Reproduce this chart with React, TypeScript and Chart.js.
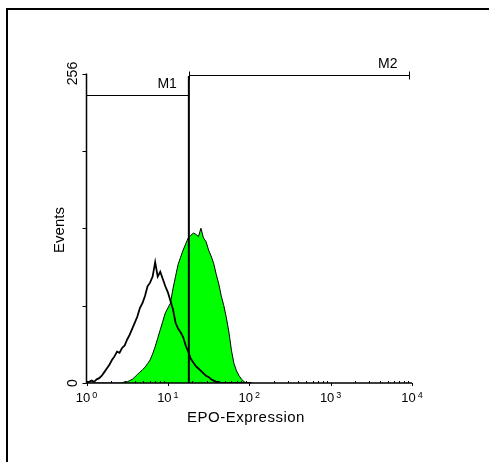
import React, { useEffect, useRef } from 'react';
import { Chart, registerables } from 'chart.js';

Chart.register(...registerables);

// Histogram channels (256-channel, 4-decade log amplifier)
const channels = [
  0, 2, 4, 6, 8, 10, 12, 14, 16, 18, 20, 22, 24, 26, 28, 30, 32, 34, 36, 38, 40, 42,
  44, 46, 48, 50, 52, 54, 56, 58, 60, 62, 64, 66, 68, 70, 72, 74, 76, 78, 80, 82, 84,
  86, 88, 90, 92, 94, 96, 98, 100, 102, 104, 106, 108, 110, 112, 114, 116, 118, 120,
  122, 124, 126, 128, 130,
];

// Isotype control (open black histogram)
const isotypeCounts = [
  1, 1, 2, 1, 3, 4, 6, 9, 12, 15, 19, 22, 26, 25, 29, 31, 36, 40, 45, 50, 55, 62,
  66, 72, 80, 83, 88, 100, 88, 92, 86, 80, 75, 68, 61, 50, 45, 42, 38, 31, 26, 20, 17,
  14, 12, 10, 8, 6, 5, 3, 2, 1, 1, 0, 0, 0, 0, 0, 0, 0, 0,
  0, 0, 0, 0, 0,
];

// EPO stained sample (green filled histogram)
const epoCounts = [
  0, 0, 0, 0, 0, 0, 0, 0, 0, 0, 0, 0, 0, 0, 0, 1, 1, 2, 3, 5, 7, 9,
  11, 13, 16, 19, 24, 30, 37, 44, 51, 58, 62, 66, 78, 88, 98, 104, 110, 115, 120, 122, 124,
  123, 121, 128, 120, 117, 110, 105, 99, 90, 82, 72, 64, 54, 42, 27, 16, 10, 6,
  3, 1, 0, 0, 0,
];

const yTickValues = [0, 64, 128, 192, 256];
const yTickLabels = ['0', '', '', '', '256'];
const xDecadeExponents = ['0', '1', '2', '3', '4'];
const xMinorMultipliers = [2, 3, 4, 5, 6, 7, 8, 9];

const markerNames = ['M1', 'M2'];
const markerStart = [0, 81];
const markerEnd = [80.5, 254];
const markerLevel = [238, 255];
const gateChannel = 80.5;
const gateTop = 254;

const xTitle = 'EPO-Expression';
const yTitle = 'Events';

const FONT = '"Liberation Sans", Arial, sans-serif';

const overlayPlugin = {
  id: 'facsOverlay',
  afterDatasetsDraw(chart: any) {
    const ctx = chart.ctx as CanvasRenderingContext2D;
    const xs = chart.scales.x;
    const ys = chart.scales.y;
    const px = (v: number) => xs.getPixelForValue(v);
    const py = (v: number) => ys.getPixelForValue(v);
    ctx.save();
    ctx.strokeStyle = '#000';
    ctx.fillStyle = '#000';

    // frame (top & left edges visible)
    ctx.fillRect(6, 8, 483, 2);
    ctx.fillRect(6, 8, 2, 454);

    // gate line
    ctx.lineWidth = 2;
    ctx.beginPath();
    ctx.moveTo(px(gateChannel), py(gateTop));
    ctx.lineTo(px(gateChannel), py(0));
    ctx.stroke();

    // markers
    ctx.lineWidth = 1;
    ctx.font = `14px ${FONT}`;
    ctx.textAlign = 'right';
    ctx.textBaseline = 'alphabetic';
    for (let i = 0; i < markerNames.length; i++) {
      const x1 = px(markerStart[i]);
      const x2 = px(markerEnd[i]);
      const y = Math.round(py(markerLevel[i])) + 0.5;
      ctx.beginPath();
      ctx.moveTo(x1, y);
      ctx.lineTo(x2, y);
      ctx.moveTo(x1, y - 4);
      ctx.lineTo(x1, y + 4);
      ctx.moveTo(x2, y - 4);
      ctx.lineTo(x2, y + 4);
      ctx.stroke();
      ctx.fillText(markerNames[i], x2 - 12, y - 8);
    }

    // axes lines
    const left = px(0);
    const right = px(256);
    const bottom = py(0);
    const top = py(256);
    ctx.lineWidth = 1.5;
    ctx.beginPath();
    ctx.moveTo(left, top);
    ctx.lineTo(left, bottom);
    ctx.lineTo(right, bottom);
    ctx.stroke();

    // y ticks (outward)
    ctx.lineWidth = 1;
    ctx.beginPath();
    yTickValues.forEach((v) => {
      const y = Math.round(py(v)) + 0.5;
      ctx.moveTo(left - 4, y);
      ctx.lineTo(left, y);
    });
    ctx.stroke();

    // x ticks: decades outward, minors inward
    ctx.beginPath();
    xDecadeExponents.forEach((_, d) => {
      const x = Math.round(px(d * 64)) + 0.5;
      ctx.moveTo(x, bottom);
      ctx.lineTo(x, bottom + 3);
      if (d < xDecadeExponents.length - 1) {
        xMinorMultipliers.forEach((k) => {
          const xm = Math.round(px(64 * (d + Math.log10(k)))) + 0.5;
          ctx.moveTo(xm, bottom - 2);
          ctx.lineTo(xm, bottom);
        });
      }
    });
    ctx.stroke();

    // x tick labels 10^n
    xDecadeExponents.forEach((e, d) => {
      const x = px(d * 64);
      ctx.font = `13px ${FONT}`;
      const wBase = ctx.measureText('10').width;
      ctx.font = `9px ${FONT}`;
      const wExp = ctx.measureText(e).width;
      const total = wBase + 2 + wExp;
      const start = x - total / 2;
      ctx.textAlign = 'left';
      ctx.font = `13px ${FONT}`;
      ctx.fillText('10', start, 402);
      ctx.font = `9px ${FONT}`;
      ctx.fillText(e, start + wBase + 2, 397.5);
    });

    // y tick labels (rotated)
    ctx.font = `14px ${FONT}`;
    yTickValues.forEach((v, i) => {
      if (!yTickLabels[i]) return;
      ctx.save();
      ctx.translate(76.5, py(v));
      ctx.rotate(-Math.PI / 2);
      ctx.textAlign = 'center';
      ctx.fillText(yTickLabels[i], 0, 0);
      ctx.restore();
    });

    // axis titles
    ctx.font = `15px ${FONT}`;
    ctx.save();
    ctx.translate(64, 230);
    ctx.rotate(-Math.PI / 2);
    ctx.textAlign = 'center';
    ctx.fillText(yTitle, 0, 0);
    ctx.restore();

    ctx.save();
    (ctx as any).letterSpacing = '0.5px';
    ctx.textAlign = 'center';
    ctx.fillText(xTitle, 246, 421.5);
    ctx.restore();

    ctx.restore();
  },
};

export default function App() {
  const canvasRef = useRef<HTMLCanvasElement | null>(null);

  useEffect(() => {
    if (!canvasRef.current) return;
    const chart = new Chart(canvasRef.current, {
      type: 'line',
      data: {
        labels: channels,
        datasets: [
          {
            label: 'Isotype',
            data: channels.map((c, i) => ({ x: c, y: isotypeCounts[i] })),
            borderColor: '#000000',
            borderWidth: 1.8,
            fill: false,
            pointRadius: 0,
            tension: 0,
            order: 0,
          },
          {
            label: 'EPO',
            data: channels.map((c, i) => ({ x: c, y: epoCounts[i] })),
            borderColor: '#000000',
            borderWidth: 1,
            backgroundColor: '#00ff00',
            fill: 'origin',
            pointRadius: 0,
            tension: 0,
            order: 1,
          },
        ],
      },
      options: {
        animation: false,
        responsive: false,
        devicePixelRatio: 1,
        layout: { padding: { left: 86.5, right: 77, top: 73.5, bottom: 79 } },
        plugins: { legend: { display: false }, tooltip: { enabled: false } },
        scales: {
          x: { type: 'linear', min: 0, max: 256, display: false },
          y: { type: 'linear', min: 0, max: 256, display: false },
        },
      },
      plugins: [overlayPlugin],
    });
    return () => chart.destroy();
  }, []);

  return (
    <div style={{ position: 'absolute', left: 0, top: 0, width: 489, height: 462, background: '#fff' }}>
      <canvas ref={canvasRef} width={489} height={462} style={{ display: 'block' }} />
    </div>
  );
}
